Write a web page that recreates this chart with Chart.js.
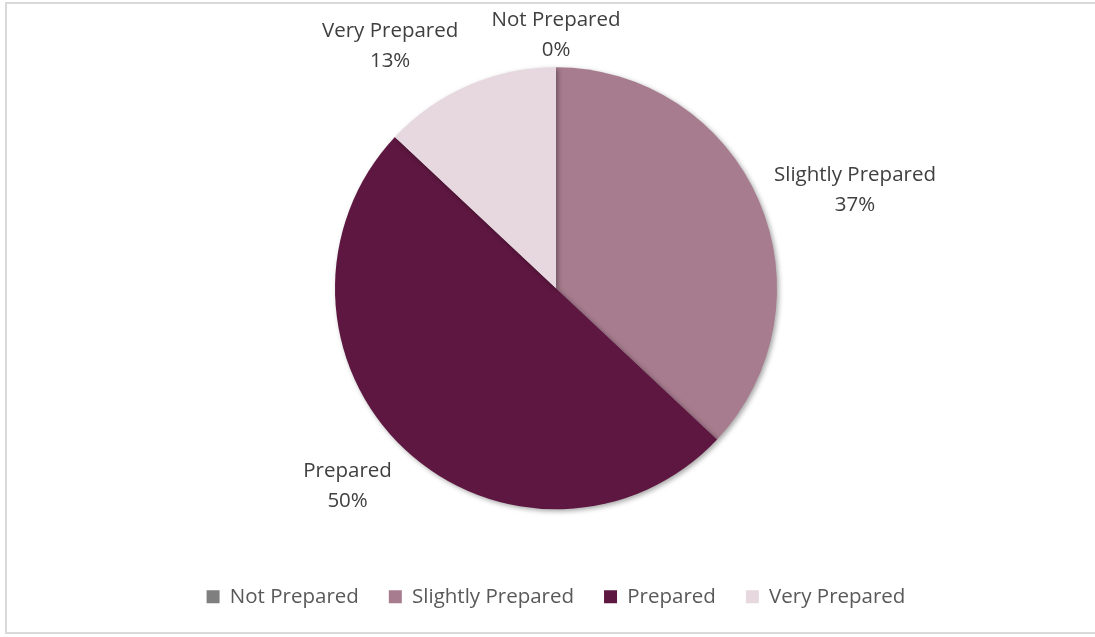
<!DOCTYPE html>
<html>
<head>
<meta charset="utf-8">
<script src="https://cdn.jsdelivr.net/npm/chart.js@4.4.1/dist/chart.umd.min.js"></script>
<style>
    html, body { margin: 0; padding: 0; background: #fff; overflow: hidden; }
    #wrap { position: relative; width: 1095px; height: 637px; }
    #frame {
        position: absolute; left: 5px; top: 2px; width: 1100px; height: 628px;
        border: 2px solid #d9d9d9; pointer-events: none;
    }
</style>
</head>
<body>
<div id="wrap">
    <canvas id="pieChart" width="1095" height="637"></canvas>
    <div id="frame"></div>
</div>
<script>
// chart data
const categories = ['Not Prepared', 'Slightly Prepared', 'Prepared', 'Very Prepared'];
const percentValues = [0, 37, 50, 13];
const sliceColors = ['#7f7f7f', '#a77c8e', '#5e1740', '#e6d8de'];

const labelFont = '20.5px "Open Sans"';
const labelColor = '#404040';

// data labels drawn just outside each slice, Excel style
const outsideLabels = {
    id: 'outsideLabels',
    afterDatasetsDraw(chart) {
        const ctx = chart.ctx;
        const meta = chart.getDatasetMeta(0);
        ctx.save();
        ctx.font = labelFont;
        ctx.fillStyle = labelColor;
        meta.data.forEach((arc, i) => {
            const p = arc.getProps(['x', 'y', 'startAngle', 'endAngle', 'outerRadius'], true);
            const mid = (p.startAngle + p.endAngle) / 2;
            const cx = Math.cos(mid), cy = Math.sin(mid);
            const dist = p.outerRadius + (cy < -0.95 ? 2 : 10);
            const px = p.x + cx * dist;
            const py = p.y + cy * dist;
            const lines = [categories[i], percentValues[i] + '%'];
            const lineH = 30;
            const blockH = lineH * lines.length;
            let top;
            if (cy < -0.6) top = py - blockH;
            else if (cy > 0.6) top = py;
            else top = py - blockH / 2 - 6;
            // lines are centred within the block
            const w = Math.max(...lines.map(t => ctx.measureText(t).width));
            let tx = px;
            if (cx > 0.3) tx = px + w / 2 + 6;
            else if (cx < -0.3) tx = px - w / 2 - 6;
            ctx.textAlign = 'center';
            ctx.textBaseline = 'middle';
            lines.forEach((t, j) => ctx.fillText(t, tx, top + lineH * j + lineH / 2));
        });
        ctx.restore();
    }
};

// soft shadow under the pie
const pieShadow = {
    id: 'pieShadow',
    beforeDatasetsDraw(chart) {
        const ctx = chart.ctx;
        ctx.save();
        ctx.shadowColor = 'rgba(0,0,0,0.35)';
        ctx.shadowBlur = 5;
        ctx.shadowOffsetX = 2;
        ctx.shadowOffsetY = 2;
    },
    afterDatasetsDraw(chart) {
        chart.ctx.restore();
    }
};

const pieCtx = document.getElementById('pieChart').getContext('2d');
const pieChart = new Chart(pieCtx, {
    type: 'pie',
    data: {
        labels: categories,
        datasets: [{
            data: percentValues,
            backgroundColor: sliceColors,
            borderWidth: 0,
            radius: 221
        }]
    },
    options: {
        responsive: false,
        animation: false,
        layout: {
            padding: { left: 17, right: 0, top: 20, bottom: 20 }
        },
        plugins: {
            tooltip: { enabled: false },
            legend: {
                position: 'bottom',
                labels: {
                    font: { family: 'Open Sans', size: 20.5 },
                    color: '#595959',
                    boxWidth: 13,
                    boxHeight: 13,
                    padding: 30
                }
            }
        }
    },
    plugins: [pieShadow, outsideLabels]
});
</script>
</body>
</html>
